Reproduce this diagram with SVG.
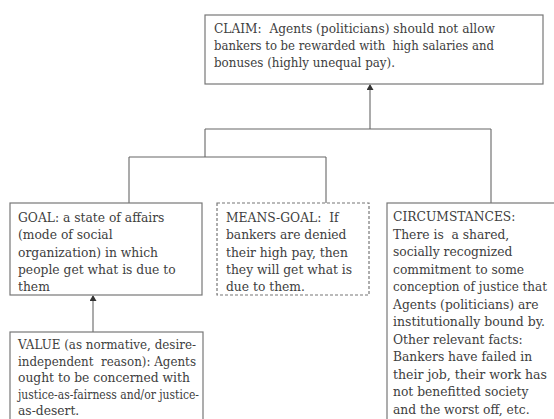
<svg xmlns="http://www.w3.org/2000/svg" width="554" height="419" viewBox="0 0 554 419">
<style>
.box{fill:#fff;stroke:#777;stroke-width:1.2}
.dash{stroke-dasharray:3 2}
.t{font-family:"DejaVu Serif","Liberation Serif",serif;font-size:12.3px;fill:#404040;white-space:pre}
.c{stroke:#666;stroke-width:1.1;fill:none}
</style>
<defs>
<marker id="ah" markerWidth="6" markerHeight="7" refX="5" refY="3.5" orient="auto" markerUnits="userSpaceOnUse">
<path d="M0,0 L6,3.5 L0,7 Z" fill="#333"/>
</marker>
</defs>
<rect width="554" height="419" fill="#fff"/>
<g id="connectors">
<line class="c" x1="370" y1="129" x2="370" y2="85" marker-end="url(#ah)"/>
<line class="c" x1="205" y1="129" x2="491" y2="129"/>
<line class="c" x1="491" y1="129" x2="491" y2="203"/>
<line class="c" x1="205" y1="129" x2="205" y2="157"/>
<line class="c" x1="129" y1="157" x2="326" y2="157"/>
<line class="c" x1="129" y1="157" x2="129" y2="203"/>
<line class="c" x1="326" y1="157" x2="326" y2="203"/>
<line class="c" x1="93" y1="332" x2="93" y2="296" marker-end="url(#ah)"/>
</g>
<g id="claim">
<rect class="box" x="205" y="15" width="338" height="69"/>
<text class="t" x="214" y="33" xml:space="preserve" textLength="281" lengthAdjust="spacingAndGlyphs">CLAIM:  Agents (politicians) should not allow</text>
<text class="t" x="214" y="50" xml:space="preserve" textLength="280" lengthAdjust="spacingAndGlyphs">bankers to be rewarded with  high salaries and</text>
<text class="t" x="214" y="67" textLength="181" lengthAdjust="spacingAndGlyphs">bonuses (highly unequal pay).</text>
</g>
<g id="goal">
<rect class="box" x="10" y="203" width="192" height="92"/>
<text class="t" x="18" y="222">GOAL: a state of affairs</text>
<text class="t" x="18" y="239.3">(mode of social</text>
<text class="t" x="18" y="256.6">organization) in which</text>
<text class="t" x="18" y="273.9">people get what is due to</text>
<text class="t" x="18" y="291.2">them</text>
</g>
<g id="means-goal">
<rect class="box dash" x="217" y="203" width="152" height="92"/>
<text class="t" x="226" y="222" xml:space="preserve">MEANS-GOAL:  If</text>
<text class="t" x="226" y="239.3">bankers are denied</text>
<text class="t" x="226" y="256.6">their high pay, then</text>
<text class="t" x="226" y="273.9">they will get what is</text>
<text class="t" x="226" y="291.2">due to them.</text>
</g>
<g id="circumstances">
<rect class="box" x="387" y="203" width="175" height="230"/>
<text class="t" x="393" y="221">CIRCUMSTANCES:</text>
<text class="t" x="393" y="238.5" xml:space="preserve">There is  a shared,</text>
<text class="t" x="393" y="256">socially recognized</text>
<text class="t" x="393" y="273.5">commitment to some</text>
<text class="t" x="393" y="291" textLength="154" lengthAdjust="spacingAndGlyphs">conception of justice that</text>
<text class="t" x="393" y="308.5">Agents (politicians) are</text>
<text class="t" x="393" y="326" textLength="152" lengthAdjust="spacingAndGlyphs">institutionally bound by.</text>
<text class="t" x="393" y="343.5">Other relevant facts:</text>
<text class="t" x="393" y="361">Bankers have failed in</text>
<text class="t" x="393" y="378.5" textLength="154" lengthAdjust="spacingAndGlyphs">their job, their work has</text>
<text class="t" x="393" y="396">not benefitted society</text>
<text class="t" x="393" y="413.5">and the worst off, etc.</text>
</g>
<g id="value">
<rect class="box" x="10" y="332" width="193" height="100"/>
<text class="t" x="18" y="349" textLength="178" lengthAdjust="spacingAndGlyphs">VALUE (as normative, desire-</text>
<text class="t" x="18" y="365.5" xml:space="preserve" textLength="178" lengthAdjust="spacingAndGlyphs">independent  reason): Agents</text>
<text class="t" x="18" y="382">ought to be concerned with</text>
<text class="t" x="18" y="398.5" textLength="181" lengthAdjust="spacingAndGlyphs">justice-as-fairness and/or justice-</text>
<text class="t" x="18" y="415">as-desert.</text>
</g>
</svg>
